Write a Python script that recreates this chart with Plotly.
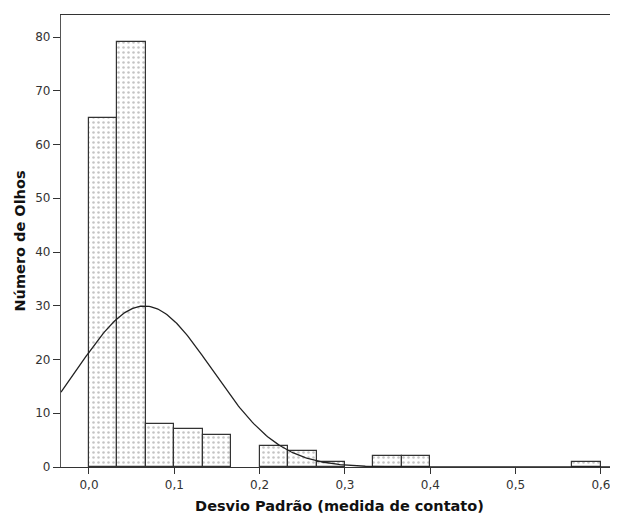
import numpy as np
import plotly.graph_objects as go

bin_width = 1 / 30
bin_left = [0.0, 1/30, 2/30, 3/30, 4/30, 6/30, 7/30, 8/30, 10/30, 11/30, 17/30]
counts = [65, 79, 8, 7, 6, 4, 3, 1, 2, 2, 1]
x_ticks = [0.0, 0.1, 0.2, 0.3, 0.4, 0.5, 0.6]
y_ticks = [0, 10, 20, 30, 40, 50, 60, 70, 80]
curve_mean = 0.065
curve_sd = 0.079
n_total = sum(counts)

centers = [b + bin_width / 2 for b in bin_left]

xr = (-0.0328, 0.62)
xc = np.linspace(xr[0], xr[1], 400)
yc = n_total * bin_width / (curve_sd * np.sqrt(2 * np.pi)) * np.exp(-(xc - curve_mean) ** 2 / (2 * curve_sd ** 2))

fig = go.Figure()
fig.add_trace(go.Bar(
    x=centers, y=counts, width=[bin_width] * len(counts),
    marker=dict(color="white",
                line=dict(color="#333333", width=1.2),
                pattern=dict(shape=".", size=5, solidity=0.2, fgcolor="#8a8a8a", bgcolor="white")),
    showlegend=False, hoverinfo="skip"))
fig.add_trace(go.Scatter(x=xc, y=yc, mode="lines", line=dict(color="#222222", width=1.3),
                         showlegend=False, hoverinfo="skip"))

fig.update_layout(
    width=610, height=507,
    margin=dict(l=53, r=0, t=7, b=48),
    paper_bgcolor="white", plot_bgcolor="white",
    separators=",.",
    font=dict(family="DejaVu Sans", size=12, color="#333333"),
    bargap=0,
)
fig.update_xaxes(range=list(xr), tickvals=x_ticks, tickformat=".1f",
                 showgrid=False, zeroline=False,
                 showline=True, linecolor="#333333", linewidth=1.3, mirror=True,
                 ticks="outside", ticklen=6, tickcolor="#333333",
                 title=dict(text="<b>Desvio Padrão (medida de contato)</b>",
                            font=dict(size=14.5, color="#111111"), standoff=10))
fig.update_yaxes(range=[0, 84.1], tickvals=y_ticks,
                 showgrid=False, zeroline=False,
                 showline=True, linecolor="#555555", linewidth=1.3, mirror=True,
                 ticks="outside", ticklen=7, tickcolor="#333333",
                 title=dict(text="<b>Número de Olhos</b>",
                            font=dict(size=14.5, color="#111111"), standoff=6))

fig.write_html("out.html")
